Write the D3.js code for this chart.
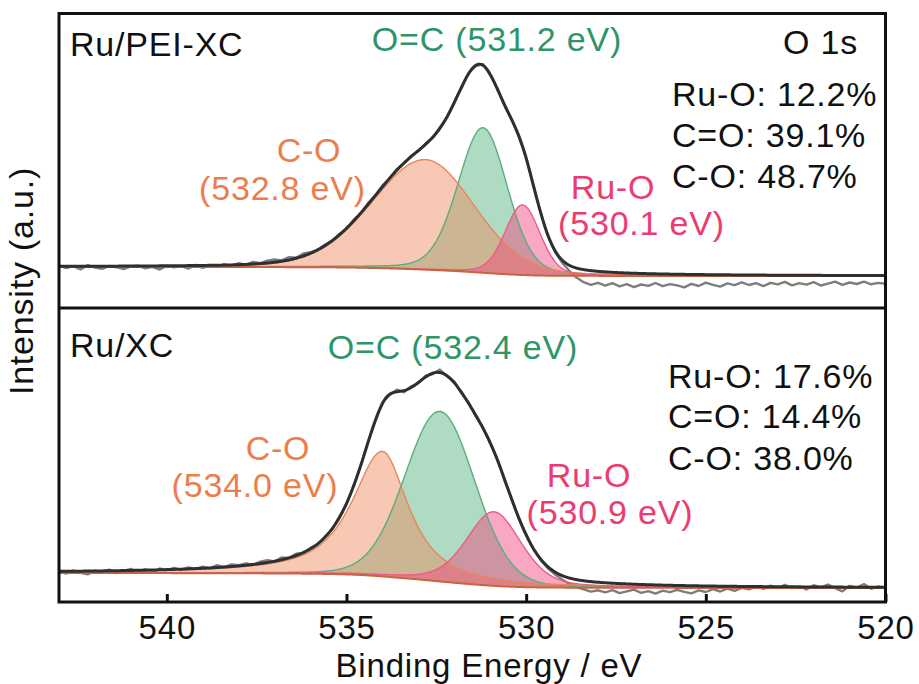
<!DOCTYPE html>
<html><head><meta charset="utf-8">
<script src="https://cdn.jsdelivr.net/npm/d3@7"></script>
<style>
html,body{margin:0;padding:0;background:#fff;}
svg{display:block;font-family:"Liberation Sans",Arial,Helvetica,sans-serif;}
svg text{letter-spacing:0.8px;}
</style></head><body>
<svg id="chart" width="919" height="684"></svg>
<script>
// O 1s XPS spectra, scanned from 543 eV down to 520 eV in 0.2 eV steps (counts, a.u.)
const scanStart = 543.0, scanStep = 0.2;

const rawPEI = [
  42.5,40.0,41.8,38.6,42.9,40.4,39.2,42.1,40.8,38.9,41.6,42.4,39.7,41.1,38.5,42.0,
  40.6,41.9,39.4,43.1,40.2,42.7,41.3,43.6,42.0,44.8,43.2,46.1,44.9,47.3,
  48.5,47.6,50.9,50.2,54.6,55.8,57.9,63.5,66.8,74.1,79.2,
  88.3,94.6,104.9,112.1,122.4,129.5,138.9,144.6,152.3,156.8,
  164.5,170.2,180.7,190.6,206.3,220.1,235.2,241.9,243.8,232.9,
  219.7,202.1,188.8,170.6,150.4,121.9,96.3,72.4,56.1,45.3,
  37.2,30.4,25.8,23.1,25.2,
  22.4,24.9,21.6,23.8,20.9,23.5,22.1,25.0,21.8,23.9,22.6,20.7,24.2,22.0,25.3,
  23.1,21.4,24.6,22.8,25.7,23.0,24.9,21.9,25.2,23.6,26.1,22.7,24.8,23.3,25.9,
  22.5,24.4,26.3,23.2,25.5,24.0,26.4,23.7,25.1,24.3
];

const rawXC = [
  30.9,28.4,31.7,29.2,27.6,31.3,29.8,32.5,28.9,31.0,33.1,30.4,32.8,29.7,33.5,31.9,
  34.2,31.8,34.6,33.0,35.4,33.7,36.8,34.9,37.5,
  36.9,38.6,37.2,40.3,41.8,40.5,44.6,43.9,48.2,49.0,54.1,
  57.6,65.3,72.5,85.1,97.9,116.8,136.4,160.5,180.6,199.5,
  206.9,212.3,209.8,215.7,218.8,226.1,228.0,232.4,225.5,220.6,
  208.8,199.5,185.6,174.3,158.4,143.0,121.3,103.1,82.9,67.9,
  52.8,42.1,33.9,27.6,22.5,18.3,14.8,12.6,10.4,11.7,
  9.6,11.8,8.9,10.7,12.4,9.2,10.9,8.4,11.3,9.8,12.1,10.2,8.7,11.6,10.0,
  12.8,10.5,13.4,11.1,14.2,12.6,15.3,13.1,16.4,14.0,17.2,13.8,15.9,12.5,16.8,
  14.7,17.5,13.9,10.6,16.2,14.5,17.9,13.2,15.6,14.1
];

// Fitted components (C-O, O=C, Ru-O): centre / eV, height, FWHM on the high- and
// low-binding-energy side / eV, Lorentzian fraction of the pseudo-Voigt shape
const peiCentres   = [532.8, 531.2, 530.1];
const peiHeights   = [110, 145, 70];
const peiFwhmHigh  = [3.5, 1.65, 1.15];
const peiFwhmLow   = [3.2, 1.6, 1.15];
const peiEta       = [0.15, 0.2, 0.2];
const peiShirley   = [41, 32];      // background level at 543 eV and at 520 eV

const xcCentres    = [534.0, 532.4, 530.9];
const xcHeights    = [125, 170, 74];
const xcFwhmHigh   = [2.0, 2.3, 1.8];
const xcFwhmLow    = [1.7, 2.3, 1.8];
const xcEta        = [0.85, 0.1, 0.35];
const xcShirley    = [29, 14];

const peiRatios = ["Ru-O: 12.2%", "C=O: 39.1%", "C-O: 48.7%"];
const xcRatios  = ["Ru-O: 17.6%", "C=O: 14.4%", "C-O: 38.0%"];
const xTicks = [540, 535, 530, 525, 520];

// ---------------------------------------------------------------------------
const plotL = 59, plotR = 885.5, plotT = 13.5, plotMid = 308, plotB = 602;
const svg = d3.select("#chart");
const fontStack = '"Liberation Sans", Arial, Helvetica, sans-serif';

const x = d3.scaleLinear().domain([543, 520]).range([plotL, plotR]);

const compFill   = ["#ef8a5e", "#3daa6c", "#f0467d"];
const compStroke = ["#e8865c", "#5aae7e", "#ef5b8a"];
const labelColor = ["#ee7d4d", "#2e9567", "#ec3b71"];

function pseudoVoigt(E, c, h, wHi, wLo, eta) {
  const d = E - c;
  const w = d >= 0 ? wHi : wLo;
  const u = (d / w) * (d / w);
  return h * (eta / (1 + 4 * u) + (1 - eta) * Math.exp(-4 * Math.LN2 * u));
}

function buildFit(p) {
  const grid = d3.range(543, 519.999, -0.02);
  const comps = p.centres.map((c, k) =>
    grid.map(E => pseudoVoigt(E, c, p.heights[k], p.fwhmHigh[k], p.fwhmLow[k], p.eta[k])));
  const total = grid.map((E, i) => d3.sum(comps, cmp => cmp[i]));
  // Shirley-type step: proportional to the area lying at lower binding energy
  const cum = new Array(grid.length).fill(0);
  for (let i = grid.length - 2; i >= 0; i--) cum[i] = cum[i + 1] + (total[i] + total[i + 1]) / 2;
  const [bHi, bLo] = p.shirley;
  const bg = grid.map((E, i) => bLo + (bHi - bLo) * cum[i] / cum[0]);
  return { grid, comps, total, bg };
}

function drawPanel(p) {
  const y = d3.scaleLinear().domain([0, p.y1 - p.y0]).range([p.y1, p.y0]);
  const clipId = "clip-" + p.id;
  svg.append("clipPath").attr("id", clipId)
    .append("rect").attr("x", plotL).attr("y", p.y0).attr("width", plotR - plotL).attr("height", p.y1 - p.y0);
  const g = svg.append("g").attr("clip-path", `url(#${clipId})`);

  const fit = buildFit(p);
  const raw = p.raw.map((v, i) => ({ e: scanStart - i * scanStep, v }));

  // measured spectrum
  g.append("path")
    .attr("d", d3.line().x(d => x(d.e)).y(d => y(d.v))(raw))
    .attr("fill", "none").attr("stroke", "#7d7d7d").attr("stroke-width", 2.4)
    .attr("stroke-linejoin", "round");

  const pts = fit.grid.map((E, i) => i);
  // component areas: O=C first, then C-O, Ru-O on top
  [1, 0, 2].forEach(k => {
    const area = d3.area()
      .x(i => x(fit.grid[i]))
      .y0(i => y(fit.bg[i]))
      .y1(i => y(fit.bg[i] + fit.comps[k][i]));
    g.append("path").attr("d", area(pts))
      .attr("fill", compFill[k]).attr("fill-opacity", k === 1 ? 0.42 : 0.47).attr("stroke", "none");
  });
  [1, 0, 2].forEach(k => {
    const line = d3.line().x(i => x(fit.grid[i])).y(i => y(fit.bg[i] + fit.comps[k][i]));
    g.append("path").attr("d", line(pts))
      .attr("fill", "none").attr("stroke", compStroke[k]).attr("stroke-width", 1.4);
  });
  // background
  g.append("path")
    .attr("d", d3.line().x(i => x(fit.grid[i])).y(i => y(fit.bg[i]))(pts))
    .attr("fill", "none").attr("stroke", "#c8643f").attr("stroke-width", 2);
  // fitted envelope
  g.append("path")
    .attr("d", d3.line().x(i => x(fit.grid[i])).y(i => y(fit.bg[i] + fit.total[i]))(pts))
    .attr("fill", "none").attr("stroke", "#2f2f2f").attr("stroke-width", 3)
    .attr("stroke-linejoin", "round");

  // texts
  const txt = (s, tx, ty, color, anchor) => svg.append("text")
    .attr("x", tx).attr("y", ty).attr("fill", color).attr("font-size", 34)
    .attr("text-anchor", anchor || "start").text(s);

  txt(p.name, 70, p.nameY, "#111");
  const ev = c => `(${c.toFixed(1)} eV)`;
  txt("C-O", p.coPos[0], p.coPos[1], labelColor[0], "middle");
  txt(ev(p.centres[0]), p.coPos[2], p.coPos[3], labelColor[0], "middle");
  txt("O=C " + ev(p.centres[1]), p.ocPos[0], p.ocPos[1], labelColor[1], "middle");
  txt("Ru-O", p.ruPos[0], p.ruPos[1], labelColor[2], "middle");
  txt(ev(p.centres[2]), p.ruPos[2], p.ruPos[3], labelColor[2], "middle");
  p.ratios.forEach((s, i) => txt(s, p.ratioX, p.ratioY[i], "#111"));
}

drawPanel({
  id: "pei", y0: plotT, y1: plotMid, raw: rawPEI,
  centres: peiCentres, heights: peiHeights, fwhmHigh: peiFwhmHigh, fwhmLow: peiFwhmLow,
  eta: peiEta, shirley: peiShirley,
  name: "Ru/PEI-XC", nameY: 56,
  coPos: [309, 162, 282.5, 200], ocPos: [497, 51], ruPos: [613, 199, 641.5, 235],
  ratios: peiRatios, ratioX: 672, ratioY: [106, 147, 188]
});
drawPanel({
  id: "xc", y0: plotMid, y1: plotB, raw: rawXC,
  centres: xcCentres, heights: xcHeights, fwhmHigh: xcFwhmHigh, fwhmLow: xcFwhmLow,
  eta: xcEta, shirley: xcShirley,
  name: "Ru/XC", nameY: 357,
  coPos: [278, 460, 255, 497], ocPos: [453, 359], ruPos: [589, 487, 610, 524],
  ratios: xcRatios, ratioX: 668, ratioY: [388, 428, 470]
});

svg.append("text").attr("x", 783).attr("y", 54).attr("font-size", 34).attr("fill", "#111").text("O 1s");

// frame and panel divider
svg.append("rect").attr("x", plotL).attr("y", plotT).attr("width", plotR - plotL).attr("height", plotB - plotT)
  .attr("fill", "none").attr("stroke", "#111").attr("stroke-width", 3);
svg.append("line").attr("x1", plotL).attr("x2", plotR).attr("y1", plotMid).attr("y2", plotMid)
  .attr("stroke", "#111").attr("stroke-width", 3);

// bottom axis, ticks pointing inward
const axis = d3.axisBottom(x).tickValues(xTicks).tickSizeInner(-8).tickSizeOuter(0).tickPadding(16)
  .tickFormat(d3.format("d"));
const ax = svg.append("g").attr("transform", `translate(0,${plotB})`).call(axis);
ax.select(".domain").remove();
ax.selectAll(".tick line").attr("stroke", "#111").attr("stroke-width", 3);
ax.selectAll(".tick text").attr("font-size", 33).attr("font-family", fontStack).attr("fill", "#111")
  .attr("dy", null).attr("y", 37);

svg.append("text").attr("x", 489).attr("y", 677).attr("text-anchor", "middle")
  .attr("font-size", 33).attr("fill", "#111").text("Binding Energy / eV");
svg.append("text").attr("transform", "translate(33,281) rotate(-90)").attr("text-anchor", "middle")
  .attr("font-size", 34).attr("fill", "#111").text("Intensity (a.u.)");
</script>
</body></html>
